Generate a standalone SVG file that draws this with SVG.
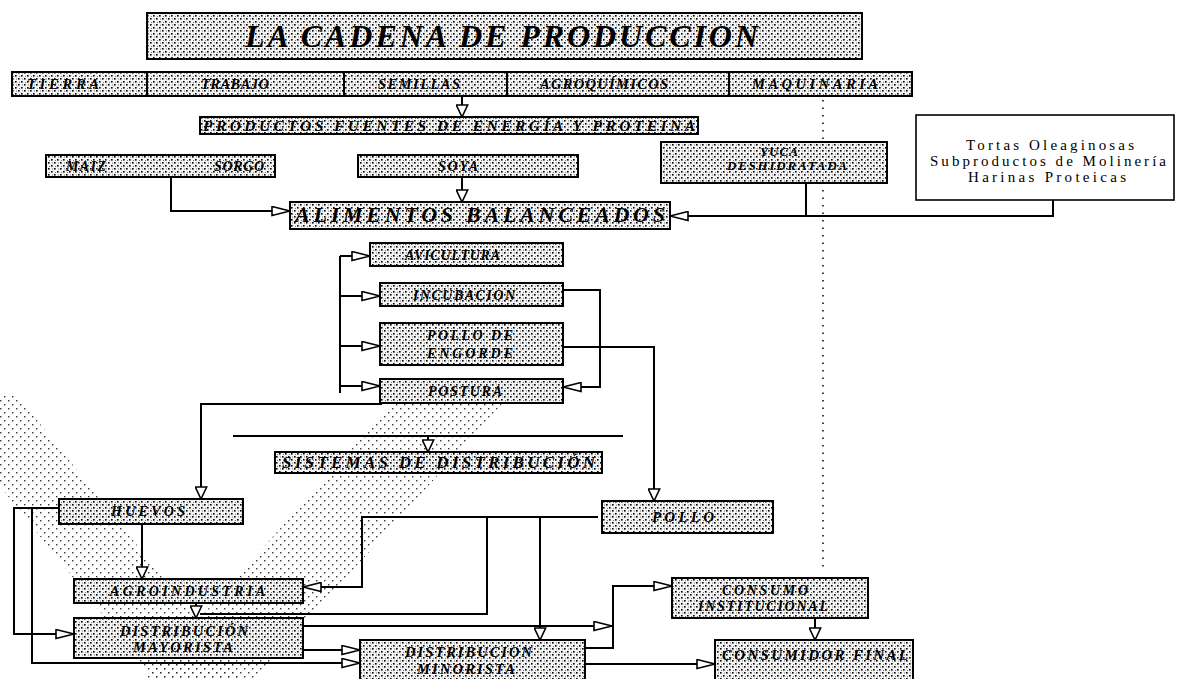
<svg xmlns="http://www.w3.org/2000/svg" width="1178" height="679" viewBox="0 0 1178 679">
<style>
.bx{fill:url(#stip);stroke:#000;stroke-width:2}
.wb{fill:#fff;stroke:#000;stroke-width:1.6}
.t{font-family:"Liberation Serif","Times New Roman",serif;font-style:italic;font-weight:bold;fill:#000;font-size:14px}
.n{font-family:"Liberation Serif","Times New Roman",serif;fill:#000;font-size:15px}
.c{fill:none;stroke:#000;stroke-width:2}
.h{marker-end:url(#ah)}
.v{marker-end:url(#av)}
.dot{fill:none;stroke:#000;stroke-width:1.5;stroke-dasharray:1.5 6}
</style>
<defs>
<pattern id="stip" width="6" height="6" patternUnits="userSpaceOnUse">
<rect width="6" height="6" fill="#f4f4f4"/>
<rect x="0" y="0" width="1.6" height="1.6" fill="#000"/>
<rect x="3" y="3" width="1.6" height="1.6" fill="#000"/>
<rect x="4" y="0.5" width="1" height="1" fill="#777"/>
<rect x="1" y="4" width="1" height="1" fill="#777"/>
</pattern>
<pattern id="bgd" width="8" height="8" patternUnits="userSpaceOnUse">
<rect x="0" y="0" width="1.4" height="1.4" fill="#333"/>
<rect x="4" y="4" width="1.4" height="1.4" fill="#333"/>
</pattern>
<marker id="ah" viewBox="0 0 20 11" refX="19" refY="5.5" markerWidth="20" markerHeight="11" markerUnits="userSpaceOnUse" orient="auto">
<path d="M1,1 L19,5.5 L1,10 Z" fill="#fff" stroke="#000" stroke-width="1.6"/>
</marker>
<marker id="av" viewBox="0 0 14 13" refX="13" refY="6.5" markerWidth="14" markerHeight="13" markerUnits="userSpaceOnUse" orient="auto">
<path d="M1,0.8 L13,6.5 L1,12.2 Z" fill="#fff" stroke="#000" stroke-width="1.6"/>
</marker>
</defs>
<rect width="1178" height="679" fill="#fff"/>
<g id="watermark">
<polygon points="-73,395 17,395 244,679 154,679" fill="url(#bgd)"/>
<polygon points="510,395 400,395 145,679 255,679" fill="url(#bgd)"/>
</g>
<path class="dot" d="M823,100 V570"/>
<g id="connectors">
<path class="c v" d="M462,97 V117"/>
<path class="c h" d="M171,177 V211 H290"/>
<path class="c v" d="M462,177 V202"/>
<path class="c" d="M806,183 V216"/>
<path class="c h" d="M1053,200 V216 H670"/>
<path class="c" d="M340,256 V393"/>
<path class="c h" d="M340,256 H370"/>
<path class="c h" d="M340,296 H380"/>
<path class="c h" d="M340,346 H380"/>
<path class="c h" d="M340,386 H380"/>
<path class="c h" d="M563,290 H600 V387 H563"/>
<path class="c v" d="M563,347 H654 V501"/>
<path class="c v" d="M382,404 H201 V499"/>
<path class="c" d="M233,436 H623"/>
<path class="c v" d="M428,436 V452"/>
<path class="c h" d="M598,517 H362 V587 H303"/>
<path class="c" d="M487,517 V614 H200"/>
<path class="c v" d="M540,517 V640"/>
<path class="c v" d="M142,524 V579"/>
<path class="c v" d="M196,603 V618"/>
<path class="c h" d="M59,508 H14 V634 H74"/>
<path class="c h" d="M32,508 V663 H360"/>
<path class="c h" d="M303,626 H612"/>
<path class="c h" d="M585,648 H613 V586 H672"/>
<path class="c h" d="M303,650 H360"/>
<path class="c h" d="M585,664 H715"/>
<path class="c v" d="M815,618 V640"/>
</g>
<g id="title"><rect class="bx" x="147" y="13" width="715" height="46"/><text class="t" x="245" y="47" style="font-size:32px" textLength="513" lengthAdjust="spacing">LA CADENA DE PRODUCCION</text></g>
<g id="tierra"><rect class="bx" x="12" y="72" width="135" height="24"/><text class="t" x="27" y="89" style="font-size:14.5px" textLength="72" lengthAdjust="spacing">TIERRA</text></g>
<g id="trabajo"><rect class="bx" x="147" y="72" width="197" height="24"/><text class="t" x="201" y="89" style="font-size:14.5px" textLength="68" lengthAdjust="spacing">TRABAJO</text></g>
<g id="semillas"><rect class="bx" x="344" y="72" width="163" height="24"/><text class="t" x="378" y="89" style="font-size:14.5px" textLength="82" lengthAdjust="spacing">SEMILLAS</text></g>
<g id="agroquimicos"><rect class="bx" x="507" y="72" width="222" height="24"/><text class="t" x="540" y="89" style="font-size:14.5px" textLength="128" lengthAdjust="spacing">AGROQUÍMICOS</text></g>
<g id="maquinaria"><rect class="bx" x="729" y="72" width="183" height="24"/><text class="t" x="752" y="89" style="font-size:14.5px" textLength="126" lengthAdjust="spacing">MAQUINARIA</text></g>
<g id="productos"><rect class="bx" x="200" y="117" width="498" height="17"/><text class="t" x="203" y="131" style="font-size:15.5px" textLength="492" lengthAdjust="spacing">PRODUCTOS FUENTES DE ENERGÍA Y PROTEINA</text></g>
<g id="maiz-sorgo"><rect class="bx" x="46" y="155" width="229" height="22"/><text class="t" x="66" y="171" textLength="40" lengthAdjust="spacing">MAIZ</text><text class="t" x="214" y="171" textLength="50" lengthAdjust="spacing">SORGO</text></g>
<g id="soya"><rect class="bx" x="358" y="155" width="220" height="22"/><text class="t" x="438" y="171" textLength="40" lengthAdjust="spacing">SOYA</text></g>
<g id="yuca"><rect class="bx" x="661" y="142" width="226" height="41"/><text class="t" x="760" y="156" style="font-size:13px" textLength="38" lengthAdjust="spacing">YUCA</text><text class="t" x="727" y="170" style="font-size:13px" textLength="120" lengthAdjust="spacing">DESHIDRATADA</text></g>
<g id="tortas"><rect class="wb" x="916" y="115" width="258" height="85"/><text class="n" x="966" y="150" textLength="168" lengthAdjust="spacing">Tortas Oleaginosas</text><text class="n" x="930" y="166" textLength="236" lengthAdjust="spacing">Subproductos de Molinería</text><text class="n" x="968" y="182" textLength="158" lengthAdjust="spacing">Harinas Proteicas</text></g>
<g id="alimentos"><rect class="bx" x="290" y="202" width="380" height="27"/><text class="t" x="295" y="222" style="font-size:22px" textLength="370" lengthAdjust="spacing">ALIMENTOS BALANCEADOS</text></g>
<g id="avicultura"><rect class="bx" x="370" y="243" width="193" height="23"/><text class="t" x="405" y="260" textLength="95" lengthAdjust="spacing">AVICULTURA</text></g>
<g id="incubacion"><rect class="bx" x="380" y="283" width="183" height="23"/><text class="t" x="413" y="300" textLength="102" lengthAdjust="spacing">INCUBACION</text></g>
<g id="pollo-engorde"><rect class="bx" x="380" y="323" width="183" height="42"/><text class="t" x="427" y="340" textLength="86" lengthAdjust="spacing">POLLO DE</text><text class="t" x="427" y="358" textLength="86" lengthAdjust="spacing">ENGORDE</text></g>
<g id="postura"><rect class="bx" x="380" y="379" width="183" height="24"/><text class="t" x="428" y="396" textLength="74" lengthAdjust="spacing">POSTURA</text></g>
<g id="sistemas"><rect class="bx" x="275" y="452" width="327" height="21"/><text class="t" x="282" y="468" style="font-size:17px" textLength="313" lengthAdjust="spacing">SISTEMAS DE DISTRIBUCIÓN</text></g>
<g id="huevos"><rect class="bx" x="59" y="499" width="184" height="25"/><text class="t" x="111" y="516" textLength="74" lengthAdjust="spacing">HUEVOS</text></g>
<g id="pollo"><rect class="bx" x="602" y="501" width="171" height="32"/><text class="t" x="652" y="522" style="font-size:15px" textLength="62" lengthAdjust="spacing">POLLO</text></g>
<g id="agroindustria"><rect class="bx" x="74" y="579" width="229" height="24"/><text class="t" x="110" y="596" textLength="155" lengthAdjust="spacing">AGROINDUSTRIA</text></g>
<g id="mayorista"><rect class="bx" x="74" y="618" width="229" height="40"/><text class="t" x="120" y="636" style="font-size:14.5px" textLength="128" lengthAdjust="spacing">DISTRIBUCIÓN</text><text class="t" x="133" y="652" style="font-size:14.5px" textLength="100" lengthAdjust="spacing">MAYORISTA</text></g>
<g id="minorista"><rect class="bx" x="360" y="640" width="225" height="45"/><text class="t" x="405" y="657" style="font-size:14.5px" textLength="127" lengthAdjust="spacing">DISTRIBUCION</text><text class="t" x="417" y="674" style="font-size:14.5px" textLength="98" lengthAdjust="spacing">MINORISTA</text></g>
<g id="consumo"><rect class="bx" x="672" y="578" width="196" height="40"/><text class="t" x="722" y="595" textLength="86" lengthAdjust="spacing">CONSUMO</text><text class="t" x="698" y="611" textLength="130" lengthAdjust="spacing">INSTITUCIONAL</text></g>
<g id="consumidor"><rect class="bx" x="715" y="640" width="198" height="45"/><text class="t" x="722" y="660" style="font-size:15px" textLength="186" lengthAdjust="spacing">CONSUMIDOR FINAL</text></g>
</svg>
